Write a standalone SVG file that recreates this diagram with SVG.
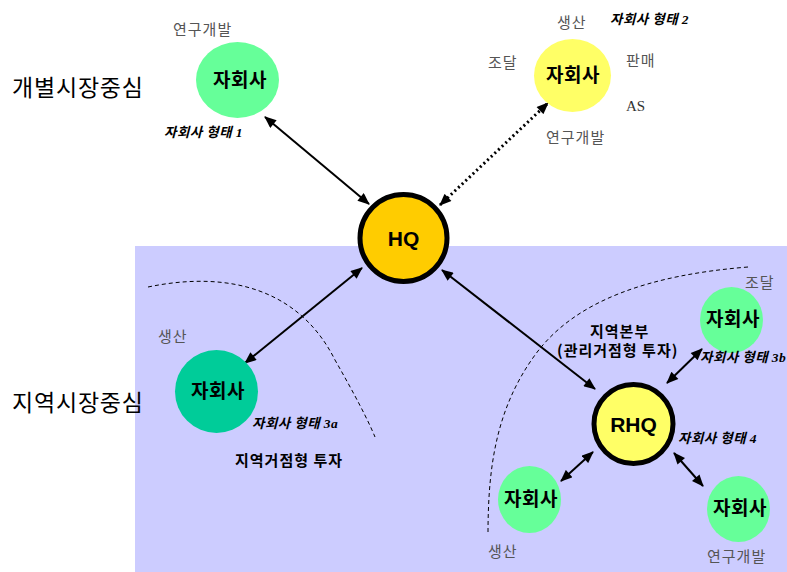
<svg xmlns="http://www.w3.org/2000/svg" width="787" height="572" viewBox="0 0 787 572">
<defs>
<marker id="ah" viewBox="0 0 12 10" refX="11" refY="5" markerWidth="13" markerHeight="10" orient="auto-start-reverse" markerUnits="userSpaceOnUse">
<path d="M0,0 L12,5 L0,10 z" fill="#000"/>
</marker>
<style>
text{font-family:"Noto Sans CJK KR","Liberation Sans",sans-serif}
.big{font-size:23px;fill:#000;letter-spacing:0.8px}
.grey{font-size:15px;fill:#555;letter-spacing:1px}
.node{font-size:19px;font-weight:bold;fill:#000;text-anchor:middle;letter-spacing:0.5px}
.type{font-size:13.5px;font-weight:bold;font-style:italic;fill:#000;letter-spacing:0.5px}
.num{font-family:"Liberation Serif",serif;font-style:italic;font-weight:bold}
.bold{font-size:15px;font-weight:bold;fill:#000;letter-spacing:1px}
.hq{font-family:"Liberation Sans",sans-serif;font-size:21px;font-weight:bold;text-anchor:middle}
.conn{stroke:#000;stroke-width:2;fill:none;marker-start:url(#ah);marker-end:url(#ah)}
.curve{stroke:#000;stroke-width:1;fill:none;stroke-dasharray:4 3}
</style>
</defs>
<rect x="135" y="246" width="652" height="326" fill="#CCCCFF"/>
<path class="curve" d="M148,287 C230,270 300,290 335,360 C355,395 368,420 375,437"/>
<path class="curve" d="M748,267 C650,275 575,300 535,355 C495,410 488,470 488,535"/>
<text class="big" x="12" y="96">개별시장중심</text>
<text class="big" x="12" y="411">지역시장중심</text>
<g id="connectors">
<line class="conn" x1="265" y1="117" x2="369" y2="204"/>
<line x1="440" y1="205" x2="548" y2="103" stroke="#000" stroke-width="3" stroke-dasharray="2 3" marker-start="url(#ah)" marker-end="url(#ah)"/>
<line class="conn" x1="362" y1="268" x2="245" y2="363"/>
<line class="conn" x1="442" y1="270" x2="595" y2="389"/>
<line class="conn" x1="667" y1="383" x2="702" y2="349"/>
<line class="conn" x1="593" y1="452" x2="561" y2="481"/>
<line class="conn" x1="674" y1="453" x2="703" y2="486"/>
</g>
<g id="hq">
<circle cx="403.5" cy="238" r="43.5" fill="#FFCC00" stroke="#000" stroke-width="5"/>
<text class="hq" x="403.5" y="246">HQ</text>
</g>
<g id="rhq">
<circle cx="633.5" cy="424" r="39.5" fill="#FFFF66" stroke="#000" stroke-width="5"/>
<text class="hq" x="633.5" y="432">RHQ</text>
</g>
<g id="sub1">
<ellipse cx="237.5" cy="80" rx="41.5" ry="38" fill="#66FF99"/>
<text class="node" x="240" y="87">자회사</text>
<text class="grey" x="173" y="35">연구개발</text>
<text class="type" x="164" y="137">자회사 형태 <tspan class="num">1</tspan></text>
</g>
<g id="sub2">
<ellipse cx="572.5" cy="75.5" rx="38.5" ry="36.5" fill="#FFFF66"/>
<text class="node" x="573" y="82">자회사</text>
<text class="grey" x="557" y="28">생산</text>
<text class="type" x="610" y="24">자회사 형태 <tspan class="num">2</tspan></text>
<text class="grey" x="488" y="68">조달</text>
<text class="grey" x="626" y="66">판매</text>
<text x="626" y="111" style="font-family:'Liberation Serif',serif;font-size:15px;fill:#333">AS</text>
<text class="grey" x="546" y="143">연구개발</text>
</g>
<g id="sub3a">
<ellipse cx="216.5" cy="391.5" rx="41.5" ry="41.5" fill="#00CC99"/>
<text class="node" x="218" y="398">자회사</text>
<text class="grey" x="158" y="342">생산</text>
<text class="type" x="252" y="428">자회사 형태 <tspan class="num">3a</tspan></text>
<text class="bold" x="235" y="466">지역거점형 투자</text>
</g>
<g id="sub3b">
<ellipse cx="731.5" cy="320" rx="31.5" ry="33" fill="#66FF99"/>
<text class="node" x="733" y="326">자회사</text>
<text class="grey" x="745" y="288">조달</text>
<text class="type" x="700" y="362">자회사 형태 <tspan class="num">3b</tspan></text>
</g>
<g id="rhq-label">
<text class="bold" x="590" y="337">지역본부</text>
<text class="bold" x="557" y="356">(관리거점형 투자)</text>
<text class="type" x="678" y="443">자회사 형태 <tspan class="num">4</tspan></text>
</g>
<g id="sub4a">
<ellipse cx="529.5" cy="499.5" rx="31.5" ry="33.5" fill="#66FF99"/>
<text class="node" x="531" y="506">자회사</text>
<text class="grey" x="488" y="557">생산</text>
</g>
<g id="sub4b">
<ellipse cx="738.5" cy="509" rx="31.5" ry="33" fill="#66FF99"/>
<text class="node" x="740" y="515">자회사</text>
<text class="grey" x="707" y="562">연구개발</text>
</g>
</svg>
